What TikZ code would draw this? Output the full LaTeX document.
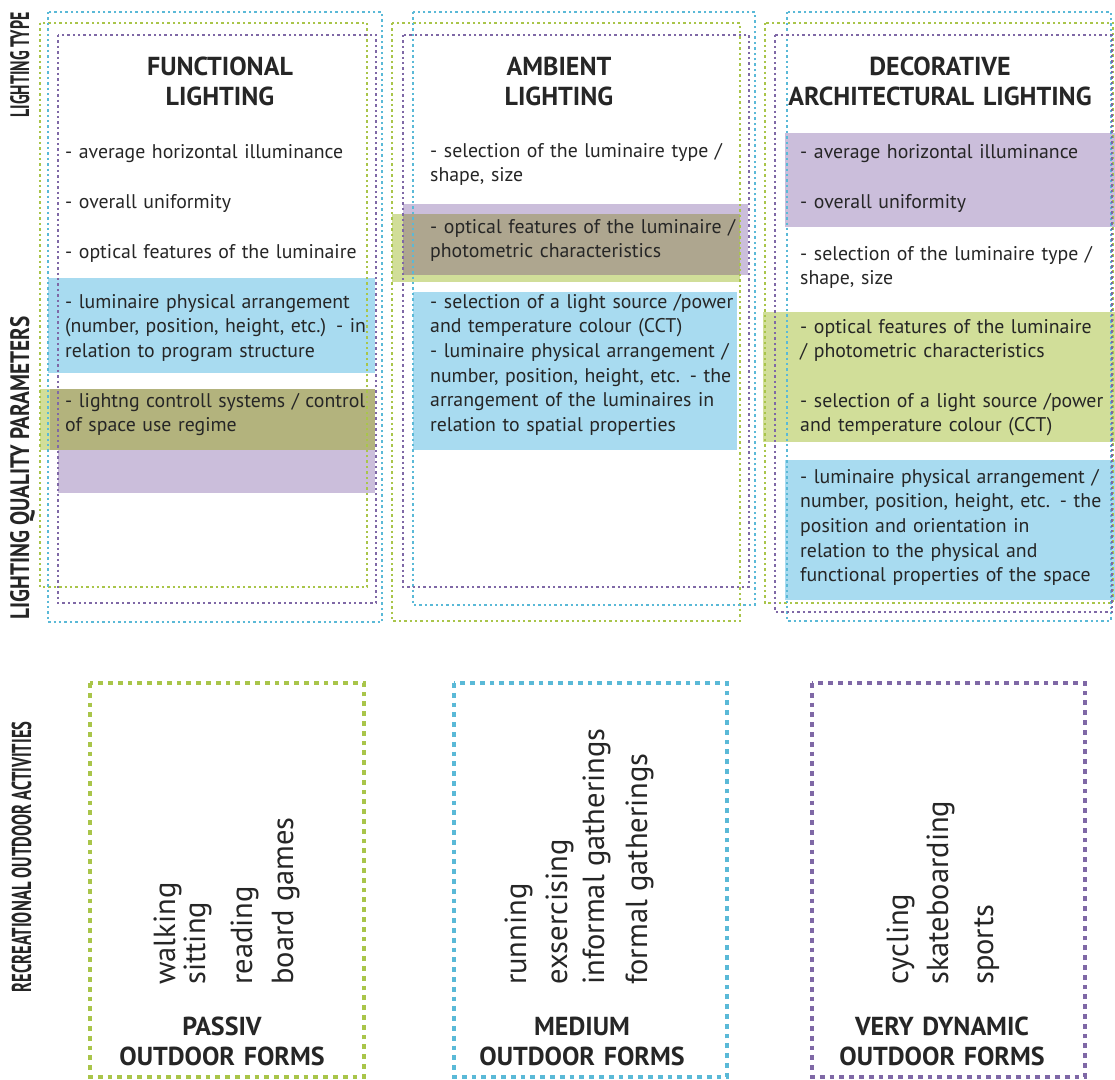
\documentclass[tikz,border=0pt]{standalone}
\usepackage{fontspec}
\setmainfont{PT Sans}
\usepackage{graphicx}
\definecolor{bluedot}{HTML}{5AB9D7}
\definecolor{greendot}{HTML}{A9C54A}
\definecolor{purpledot}{HTML}{7F68A6}
\definecolor{blueband}{HTML}{A8DBF0}
\definecolor{purpleband}{HTML}{CBBEDB}
\definecolor{greenband}{HTML}{D1DE99}
\definecolor{oliveband}{HTML}{B3B37D}
\definecolor{brownband}{HTML}{AEA68F}
\definecolor{txt}{HTML}{262626}
\newcommand\justline[1]{\makebox[298pt][s]{#1}}
\begin{document}
\begin{tikzpicture}[x=1pt,y=-1pt,
  fdot/.style={line width=2.5pt, dash pattern=on 2.4pt off 3pt},
  fblue/.style={fdot, draw=bluedot},
  fgreen/.style={fdot, draw=greendot},
  fpurple/.style={fdot, draw=purpledot},
  bdot/.style={line width=4pt, dash pattern=on 4.8pt off 5pt},
  item/.style={anchor=base west, inner sep=0pt, text width=360pt, align=left,
    font=\fontsize{19.8}{24.7}\selectfont, text=txt},
  head/.style={anchor=base, inner sep=0pt, text width=340pt, align=center,
    font=\bfseries\fontsize{26}{30}\selectfont, text=txt},
  act/.style={rotate=90, anchor=base west, inner sep=0pt,
    font=\fontsize{30.5}{30}\selectfont, text=txt},
  sidelabel/.style={rotate=90, anchor=base, inner sep=0pt, text=txt}
]
\useasboundingbox (0,0) rectangle (1115,1079);
\fill[white] (0,0) rectangle (1115,1079);

% ---- bands column 1
\fill[blueband] (48,278) rectangle (375,373);
\fill[greenband] (40,389) rectangle (375,450);
\fill[oliveband] (50,389) rectangle (375,450);
\fill[purpleband] (58,450) rectangle (375,493);
% ---- bands column 2
\fill[purpleband] (403,204) rectangle (748,275);
\fill[greenband] (392,214) rectangle (740,282);
\fill[brownband] (403,214) rectangle (740,275);
\fill[blueband] (413,292) rectangle (737,450);
% ---- bands column 3
\fill[purpleband] (785,133) rectangle (1115,227);
\fill[greenband] (763,312) rectangle (1115,442);
\fill[blueband] (785,460) rectangle (1115,600);

% ---- dotted frames column 1
\draw[fgreen] (40,23) rectangle (367,587);
\draw[fblue] (48,12) rectangle (382,622);
\draw[fpurple] (58,35) rectangle (376,603);
% ---- dotted frames column 2
\draw[fgreen] (392,23) rectangle (740,621);
\draw[fblue] (413,12) rectangle (755,605);
\draw[fpurple] (403,35) rectangle (749,587);
% ---- dotted frames column 3
\draw[fgreen] (765,23) rectangle (1113,603);
\draw[fblue] (787,12) rectangle (1111,621);
\draw[fpurple] (775,35) rectangle (1112,612);

% ---- side labels
\node[sidelabel] (lt) at (29,65) {\resizebox{105pt}{19pt}{\bfseries LIGHTING TYPE}};
\node[sidelabel] (lq) at (29,468) {\resizebox{303pt}{19pt}{\bfseries LIGHTING QUALITY PARAMETERS}};
\node[sidelabel] (lr) at (31,857) {\resizebox{271pt}{19.5pt}{\bfseries RECREATIONAL OUTDOOR ACTIVITIES}};

% ---- headings
\node[head] (h1) at (220,75) {FUNCTIONAL\\LIGHTING};
\node[head] (h2) at (559,75) {AMBIENT\\LIGHTING};
\node[head] (h3) at (940,75) {DECORATIVE\\ARCHITECTURAL LIGHTING};

% ---- column 1 texts
\node[item] (f1) at (65,158) {- average horizontal illuminance};
\node[item] (f2) at (65,208) {- overall uniformity};
\node[item] (f3) at (65,258) {- optical features of the luminaire};
\node[item] (f4) at (65,308) {\justline{- luminaire physical arrangement}\\\justline{(number, position, height, etc.) - in}\\relation to program structure};
\node[item] (f5) at (65,407) {- lightng controll systems / control\\of space use regime};

% ---- column 2 texts
\node[item] (a1) at (430,157) {- selection of the luminaire type /\\shape, size};
\node[item] (a2) at (430,233) {\justline{- optical features of the luminaire /}\\photometric characteristics};
\node[item] (a3) at (430,308) {- selection of a light source /power\\and temperature colour (CCT)\\- luminaire physical arrangement /\\number, position, height, etc. - the\\\justline{arrangement of the luminaires in}\\relation to spatial properties};

% ---- column 3 texts
\node[item] (d1) at (800,158) {- average horizontal illuminance};
\node[item] (d2) at (800,208) {- overall uniformity};
\node[item] (d3) at (800,260) {- selection of the luminaire type /\\shape, size};
\node[item] (d4) at (800,333) {- optical features of the luminaire\\/ photometric characteristics};
\node[item] (d5) at (800,407) {- selection of a light source /power\\and temperature colour (CCT)};
\node[item] (d6) at (800,483) {- luminaire physical arrangement /\\number, position, height, etc. - the\\position and orientation in\\relation to the physical and\\functional properties of the space};

% ---- bottom frames
\draw[bdot, draw=greendot] (90,683) rectangle (364,1077);
\draw[bdot, draw=bluedot] (454,683) rectangle (727,1077);
\draw[bdot, draw=purpledot] (812,683) rectangle (1085,1077);

% ---- activities
\node[act] (p1) at (175,985) {walking};
\node[act] (p2) at (205,985) {sitting};
\node[act] (p3) at (252,985) {reading};
\node[act] (p4) at (293,985) {board games};
\node[act] (m1) at (526,985) {running};
\node[act] (m2) at (567,985) {exsercising};
\node[act] (m3) at (604,985) {informal gatherings};
\node[act] (m4) at (647,985) {formal gatherings};
\node[act] (v1) at (908,985) {cycling};
\node[act] (v2) at (948,985) {skateboarding};
\node[act] (v3) at (993,985) {sports};

% ---- bottom labels
\node[head] (b1) at (222,1035) {PASSIV\\OUTDOOR FORMS};
\node[head] (b2) at (582,1035) {MEDIUM\\OUTDOOR FORMS};
\node[head] (b3) at (942,1035) {VERY DYNAMIC\\OUTDOOR FORMS};
\end{tikzpicture}
\end{document}
